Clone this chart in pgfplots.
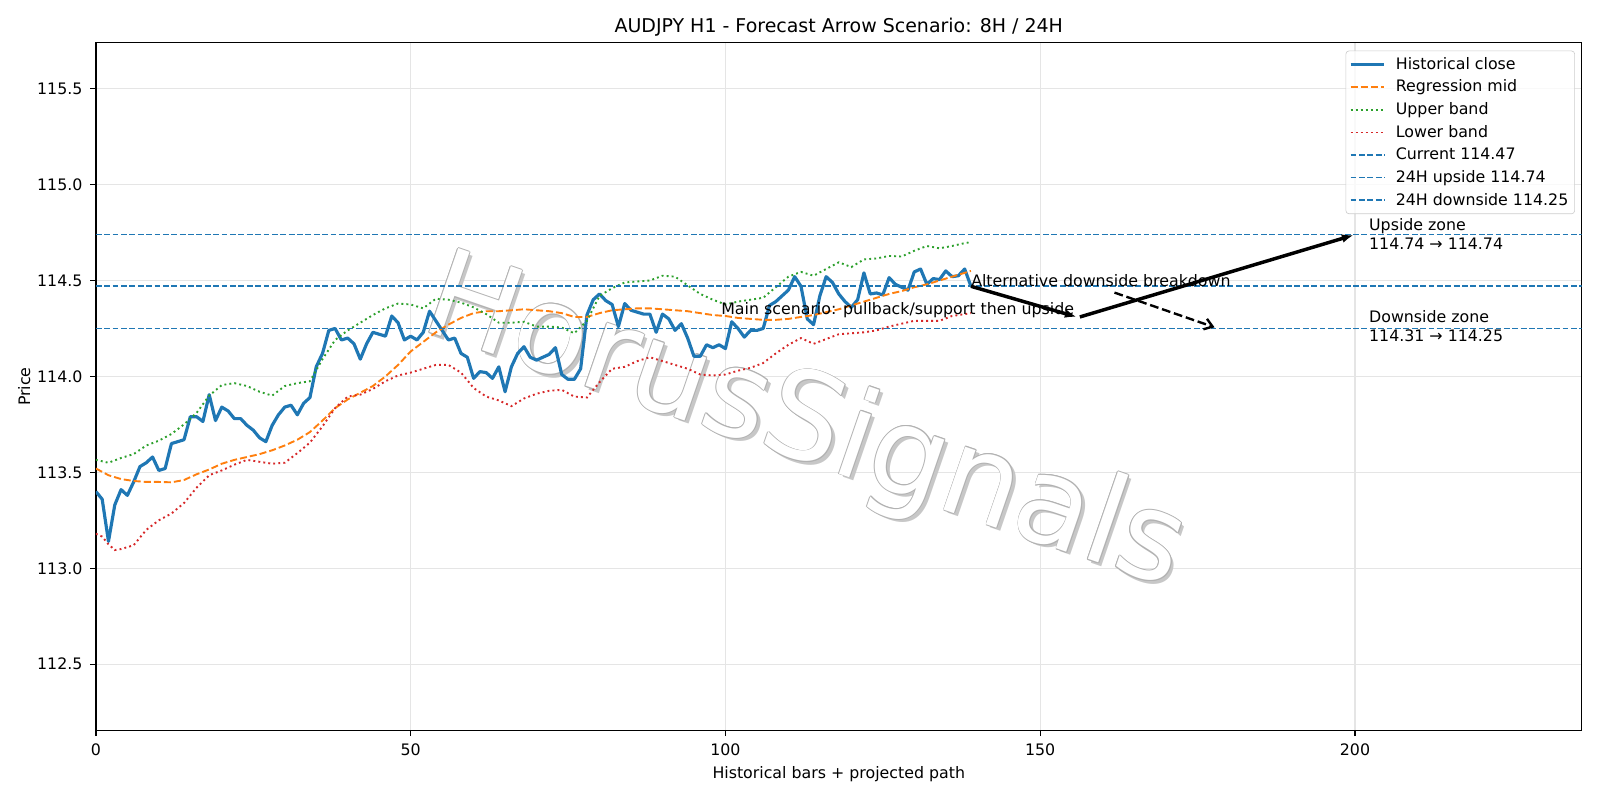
\documentclass[border=0pt]{standalone}
\usepackage{fontspec}
\setmainfont{DejaVu Sans}
\usepackage{pgfplots}
\pgfplotsset{compat=1.18}
\usetikzlibrary{arrows.meta}
\definecolor{mblue}{HTML}{1F77B4}
\definecolor{morange}{HTML}{FF7F0E}
\definecolor{mgreen}{HTML}{2CA02C}
\definecolor{mred}{HTML}{D62728}
\newcommand{\wmfont}{\fontsize{77}{80}\selectfont}
\begin{document}
\begin{tikzpicture}
\begin{axis}[
  scale only axis, width=13.0in, height=6.0174in,
  xmin=0, xmax=236, ymin=112.154, ymax=115.739,
  xtick={0,50,100,150,200},
  ytick={112.5,113.0,113.5,114.0,114.5,115.0,115.5},
  tick pos=left, tick align=outside, major tick length=3.5pt,
  every tick/.style={black, line width=0.8pt},
  axis line style={line width=0.8pt},
  grid=major, major grid style={line width=0.8pt, color=black!10},
  /pgf/number format/assume math mode=true,
  xticklabel style={anchor=north, inner sep=0pt, yshift=-4.45pt},
  yticklabel style={anchor=east, inner sep=0pt, xshift=-4.8pt, /pgf/number format/fixed, /pgf/number format/fixed zerofill, /pgf/number format/precision=1},
  title={AUDJPY H1 - Forecast Arrow Scenario: 8H / 24H},
  title style={at={(axis description cs:0.5,1)}, anchor=base, yshift=0.6pt, font=\fontsize{12}{14}\selectfont, inner sep=0pt},
  xlabel={Historical bars + projected path},
  xlabel style={at={(axis description cs:0.5,0)}, anchor=base, yshift=-30.2pt, inner sep=0pt},
  ylabel={Price},
  ylabel style={at={(axis description cs:-0.0442,0.5)}, anchor=base, inner sep=0pt},
  legend cell align=left,
  legend image code/.code={\draw[#1] (0pt,0pt) -- (21.4pt,0pt);},
  legend style={at={(axis description cs:0.99553,0.98873)}, anchor=north east,
    draw=black!20, fill=white, fill opacity=0.8, text opacity=1, draw opacity=1,
    rounded corners=2pt, inner sep=2pt, row sep=1.25pt, font=\normalsize,
    /tikz/every odd column/.append style={column sep=4.2pt}},
  clip=true,
]
% watermark (beneath the data)
\node[rotate=-19, font=\wmfont, text=black!22] at ([shift={(2.2pt,-2.2pt)}]axis cs:112.6,113.74) {HorusSignals};
\node[rotate=-19, font=\wmfont, text=black!30] at ([shift={(0.55pt,0pt)}]axis cs:112.6,113.74) {HorusSignals};
\node[rotate=-19, font=\wmfont, text=black!30] at ([shift={(-0.55pt,0pt)}]axis cs:112.6,113.74) {HorusSignals};
\node[rotate=-19, font=\wmfont, text=black!30] at ([shift={(0pt,0.55pt)}]axis cs:112.6,113.74) {HorusSignals};
\node[rotate=-19, font=\wmfont, text=black!30] at ([shift={(0pt,-0.55pt)}]axis cs:112.6,113.74) {HorusSignals};
\node[rotate=-19, font=\wmfont, text=black!30] at ([shift={(0.39pt,0.39pt)}]axis cs:112.6,113.74) {HorusSignals};
\node[rotate=-19, font=\wmfont, text=black!30] at ([shift={(-0.39pt,0.39pt)}]axis cs:112.6,113.74) {HorusSignals};
\node[rotate=-19, font=\wmfont, text=black!30] at ([shift={(0.39pt,-0.39pt)}]axis cs:112.6,113.74) {HorusSignals};
\node[rotate=-19, font=\wmfont, text=black!30] at ([shift={(-0.39pt,-0.39pt)}]axis cs:112.6,113.74) {HorusSignals};
\node[rotate=-19, font=\wmfont, text=white] at (axis cs:112.6,113.74) {HorusSignals};

\addplot[mblue, line width=2pt, line join=round] table {
0 113.40
1 113.36
2 113.14
3 113.33
4 113.41
5 113.38
6 113.45
7 113.53
8 113.55
9 113.58
10 113.51
11 113.52
12 113.65
13 113.66
14 113.67
15 113.79
16 113.79
17 113.765
18 113.905
19 113.77
20 113.84
21 113.82
22 113.78
23 113.78
24 113.745
25 113.72
26 113.68
27 113.66
28 113.745
29 113.80
30 113.84
31 113.85
32 113.80
33 113.86
34 113.89
35 114.05
36 114.12
37 114.24
38 114.25
39 114.19
40 114.20
41 114.17
42 114.09
43 114.17
44 114.23
45 114.22
46 114.21
47 114.315
48 114.28
49 114.19
50 114.21
51 114.19
52 114.23
53 114.34
54 114.29
55 114.24
56 114.19
57 114.20
58 114.12
59 114.10
60 113.99
61 114.025
62 114.02
63 113.99
64 114.05
65 113.92
66 114.05
67 114.12
68 114.155
69 114.10
70 114.085
71 114.10
72 114.115
73 114.15
74 114.01
75 113.985
76 113.985
77 114.04
78 114.32
79 114.40
80 114.43
81 114.395
82 114.375
83 114.26
84 114.38
85 114.345
86 114.335
87 114.325
88 114.325
89 114.23
90 114.325
91 114.30
92 114.24
93 114.275
94 114.20
95 114.105
96 114.105
97 114.165
98 114.15
99 114.165
100 114.145
101 114.285
102 114.25
103 114.205
104 114.24
105 114.24
106 114.25
107 114.37
108 114.39
109 114.42
110 114.45
111 114.52
112 114.47
113 114.30
114 114.27
115 114.42
116 114.52
117 114.49
118 114.43
119 114.39
120 114.36
121 114.40
122 114.54
123 114.43
124 114.435
125 114.425
126 114.515
127 114.48
128 114.465
129 114.45
130 114.545
131 114.56
132 114.48
133 114.51
134 114.505
135 114.55
136 114.52
137 114.525
138 114.56
139 114.47
};
\addlegendentry{Historical close}

\addplot[morange, line width=1.2pt, dash pattern=on 4.44pt off 1.92pt] table {
0 113.52
2 113.485
4 113.465
6 113.455
8 113.45
10 113.45
12 113.448
14 113.46
16 113.49
18 113.515
20 113.545
22 113.565
24 113.58
26 113.595
28 113.615
30 113.64
32 113.67
34 113.71
36 113.77
38 113.835
40 113.88
42 113.915
44 113.95
46 114.00
48 114.06
50 114.13
52 114.18
54 114.23
56 114.27
58 114.305
60 114.33
62 114.34
64 114.34
66 114.345
68 114.35
70 114.345
72 114.34
74 114.33
76 114.31
78 114.31
80 114.33
82 114.345
84 114.35
86 114.355
88 114.355
90 114.35
92 114.345
94 114.34
96 114.33
98 114.32
100 114.315
102 114.305
104 114.30
106 114.295
108 114.295
110 114.30
112 114.31
114 114.32
116 114.335
118 114.35
120 114.37
122 114.39
124 114.41
126 114.43
128 114.445
130 114.465
132 114.48
134 114.50
136 114.52
138 114.54
139 114.55
};
\addlegendentry{Regression mid}

\addplot[mgreen, line width=1.2pt, dash pattern=on 1.2pt off 1.98pt] table {
0 113.565
2 113.55
4 113.575
6 113.595
8 113.64
10 113.665
12 113.70
14 113.75
16 113.81
18 113.90
20 113.955
22 113.965
24 113.95
26 113.92
28 113.90
30 113.95
32 113.965
34 113.975
36 114.09
38 114.19
40 114.24
42 114.28
44 114.32
46 114.355
48 114.38
50 114.375
52 114.355
54 114.405
56 114.40
58 114.385
60 114.36
62 114.325
64 114.28
66 114.28
68 114.285
70 114.26
72 114.26
74 114.255
76 114.225
78 114.29
80 114.42
82 114.46
84 114.49
86 114.495
88 114.50
90 114.525
92 114.52
94 114.475
96 114.43
98 114.40
100 114.375
102 114.39
104 114.40
106 114.41
108 114.465
110 114.52
112 114.545
114 114.525
116 114.56
118 114.595
120 114.57
122 114.61
124 114.615
126 114.628
128 114.625
130 114.655
132 114.68
134 114.668
136 114.68
138 114.695
139 114.70
};
\addlegendentry{Upper band}

\addplot[mred, line width=1.2pt, dash pattern=on 1.2pt off 1.98pt] table {
0 113.18
1 113.165
2 113.125
3 113.095
4 113.10
6 113.12
8 113.20
10 113.25
12 113.285
14 113.34
16 113.42
18 113.485
20 113.51
22 113.54
24 113.565
26 113.555
28 113.545
30 113.55
32 113.60
34 113.655
36 113.74
38 113.835
40 113.895
42 113.905
44 113.935
46 113.975
48 114.005
50 114.02
52 114.04
54 114.06
56 114.06
58 114.02
60 113.94
62 113.895
64 113.875
66 113.845
68 113.885
70 113.91
72 113.925
74 113.93
76 113.895
78 113.89
80 113.97
82 114.04
84 114.05
86 114.08
88 114.10
90 114.08
92 114.06
94 114.04
96 114.01
98 114.005
100 114.01
102 114.03
104 114.045
106 114.07
108 114.12
110 114.165
112 114.20
114 114.17
116 114.195
118 114.22
120 114.225
122 114.23
124 114.24
126 114.26
128 114.275
130 114.29
132 114.29
134 114.29
136 114.315
138 114.325
139 114.33
};
\addlegendentry{Lower band}

\addplot[mblue, line width=1pt, dash pattern=on 3.7pt off 1.6pt] table {
0 114.47
236 114.47
};
\addlegendentry{Current 114.47}
\addplot[mblue, line width=1pt, dash pattern=on 3.7pt off 1.6pt] table {
0 114.74
236 114.74
};
\addlegendentry{24H upside 114.74}
\addplot[mblue, line width=1pt, dash pattern=on 3.7pt off 1.6pt] table {
0 114.25
236 114.25
};
\addlegendentry{24H downside 114.25}

% annotations
\draw[line width=2.2pt, -{Latex[length=7.5pt,width=5.5pt]}] (axis cs:139,114.47) -- (axis cs:155.8,114.31);
\draw[line width=2.2pt, -{Latex[length=7.5pt,width=5.5pt]}] (axis cs:156.3,114.31) -- (axis cs:199.8,114.737);
\draw[line width=1.5pt, dash pattern=on 5.55pt off 2.4pt, -{Straight Barb[length=5pt,width=7pt]}] (axis cs:161.8,114.437) -- (axis cs:177.7,114.256);
\node[anchor=base west, inner sep=0pt] at (axis cs:139,114.47) {Alternative downside breakdown};
\node[anchor=base west, inner sep=0pt] at (axis cs:99.3,114.325) {Main scenario: pullback/support then upside};
\node[anchor=west, align=left, inner sep=0pt] at (axis cs:202.2,114.745) {Upside zone\\114.74 → 114.74};
\node[anchor=west, align=left, inner sep=0pt] at (axis cs:202.2,114.26) {Downside zone\\114.31 → 114.25};
\end{axis}
\pgfresetboundingbox
\path[use as bounding box] ([xshift=-0.839in,yshift=-0.607in]current axis.south west) rectangle ([xshift=0.161in,yshift=0.375in]current axis.north east);
\end{tikzpicture}
\end{document}
